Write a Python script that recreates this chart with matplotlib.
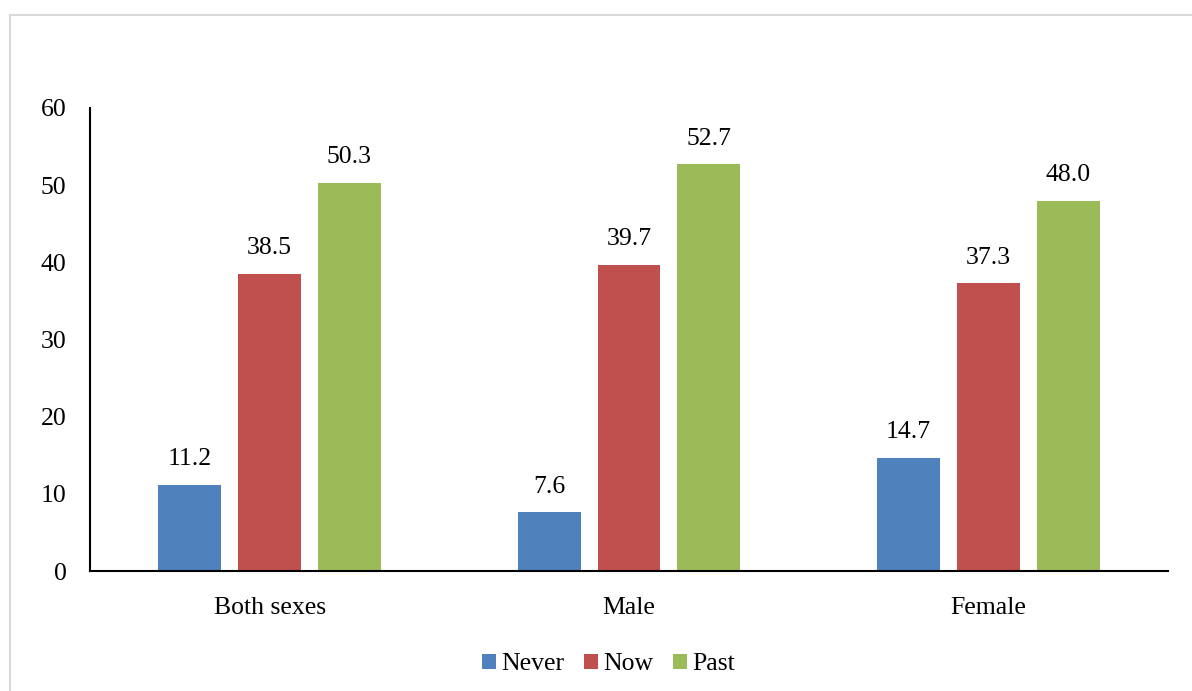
import numpy as np
import matplotlib.pyplot as plt
from matplotlib.patches import Rectangle

categories = ['Both sexes', 'Male', 'Female']
series = ['Never', 'Now', 'Past']
never = [11.2, 7.6, 14.7]
now = [38.5, 39.7, 37.3]
past = [50.3, 52.7, 48.0]
colors = ['#4F81BD', '#C0504D', '#9BBB59']

plt.rcParams['font.family'] = ['Liberation Serif', 'DejaVu Serif']
fs = 18.5

fig = plt.figure(figsize=(11.92, 6.91), dpi=100)
ax = fig.add_axes([90/1192, 1-571/691, 1078/1192, 463/691])

# light gray frame around the chart area
fig.patches.append(Rectangle((10/1192, -0.05), 1.2, 1-15/691+0.05, transform=fig.transFigure,
                             fill=False, edgecolor='#D9D9D9', linewidth=1.5))

x = np.arange(len(categories))
w = 0.175
off = 0.222
for i, (name, vals) in enumerate(zip(series, [never, now, past])):
    pos = x + (i - 1) * off
    bars = ax.bar(pos, vals, w, color=colors[i], label=name)
    for b, v in zip(bars, vals):
        ax.text(b.get_x() + b.get_width()/2, v + 1.9, '%.1f' % v,
                ha='center', va='bottom', fontsize=fs)

ax.set_xlim(-0.5, 2.5)
ax.set_ylim(0, 60)
ax.set_yticks(range(0, 61, 10))
ax.set_xticks(x)
ax.set_xticklabels(categories)
ax.tick_params(length=0, labelsize=fs)
ax.tick_params(axis='y', pad=17)
ax.tick_params(axis='x', pad=19)
for s in ['top', 'right']:
    ax.spines[s].set_visible(False)
ax.spines['left'].set_linewidth(1.5)
ax.spines['bottom'].set_linewidth(1.5)

ax.legend(loc='upper center', bbox_to_anchor=(0.481, -0.128), ncol=3, frameon=False,
          fontsize=fs, handlelength=0.55, handleheight=0.55, handletextpad=0.2,
          columnspacing=0.75)

fig.savefig('out.png', dpi=100)
